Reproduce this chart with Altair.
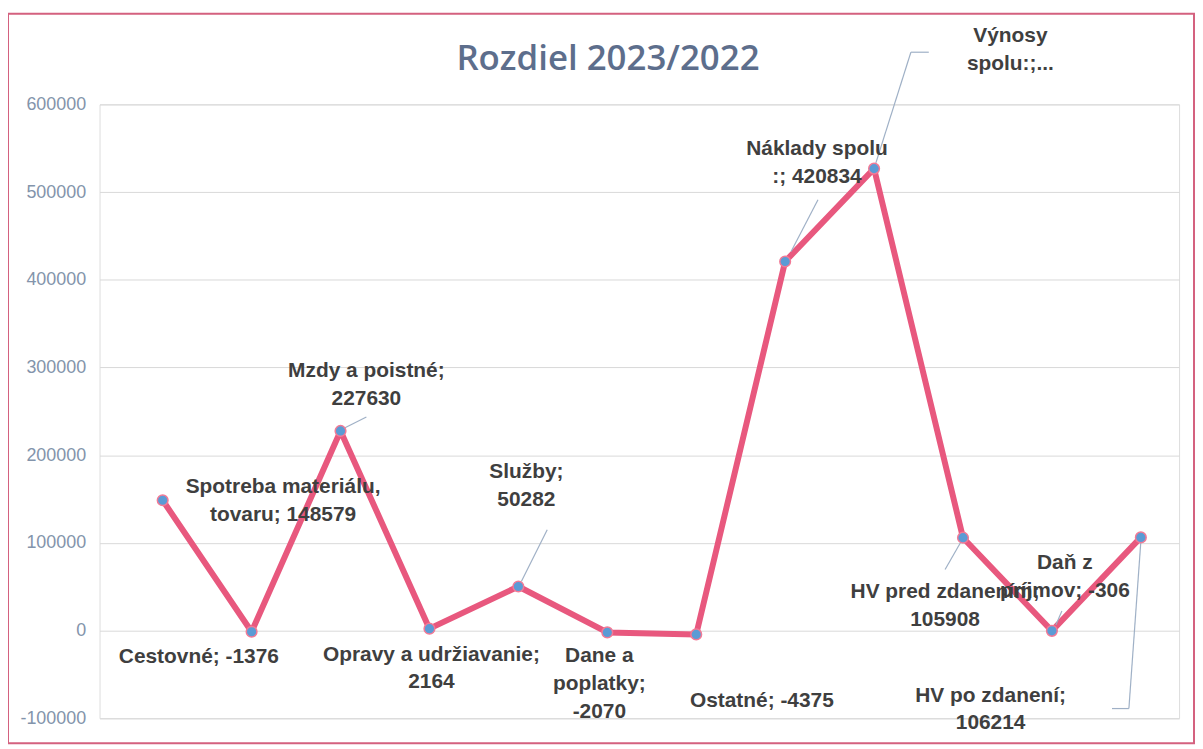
import altair as alt
import pandas as pd

categories = ["Spotreba materiálu, tovaru", "Cestovné", "Mzdy a poistné",
              "Opravy a udržiavanie", "Služby", "Dane a poplatky", "Ostatné",
              "Náklady spolu", "Výnosy spolu", "HV pred zdanením",
              "Daň z príjmov", "HV po zdanení"]
values = [148579, -1376, 227630, 2164, 50282, -2070, -4375,
          420834, 526742, 105908, -306, 106214]
label_texts = ["Spotreba materiálu,\ntovaru; 148579", "Cestovné; -1376",
               "Mzdy a poistné;\n227630", "Opravy a udržiavanie;\n2164",
               "Služby;\n50282", "Dane a\npoplatky;\n-2070", "Ostatné; -4375",
               "Náklady spolu\n:; 420834", "Výnosy\nspolu:;...",
               "HV pred zdanením;\n105908", "Daň z\npríjmov; -306",
               "HV po zdanení;\n106214"]
y_ticks = [-100000, 0, 100000, 200000, 300000, 400000, 500000, 600000]
title_text = "Rozdiel 2023/2022"

# label placement (pixel offsets of the first text line from the point) - layout only
label_offsets = {0: (121, -13), 1: (-53, 25), 2: (26, -60), 3: (2, 26),
                 4: (8, -115), 5: (-8, 24), 6: (66, 67), 7: (32, -113),
                 8: (137, -133), 9: (-18, 55), 10: (13, -68), 11: (-151, 159)}
# leader lines: (index, start offset, end offset)
leaders = [(2, (4, -3), (26, -14)), (4, (3, -5), (29, -57)),
           (7, (6, -10), (33, -62)), (8, (0, 0), (37, -117)),
           (8, (37, -117), (55, -117)), (9, (-2, 4), (-18, 32)),
           (10, (4, -6), (10, -20)), (11, (0, 4), (-12, 172)),
           (11, (-12, 172), (-29, 172))]

df = pd.DataFrame({"idx": list(range(len(categories))), "cat": categories,
                   "val": values, "label": label_texts})

W, H = 1085, 617
FONT = "Liberation Sans"
LINE_COLOR = "#e8587e"

x_enc = alt.X("idx:Q", scale=alt.Scale(domain=[-0.71, 11.43], nice=False, zero=False), axis=None)
y_enc = alt.Y("val:Q", scale=alt.Scale(domain=[-100000, 600000], nice=False, zero=False),
              axis=alt.Axis(values=y_ticks, labelExpr="'' + datum.value", title=None,
                            domain=False, ticks=False,
                            labelFont=FONT, labelFontSize=18, labelColor="#8394ab",
                            labelPadding=14, grid=True, gridColor="#d9d9d9", gridWidth=1))

base = alt.Chart(df)

line = base.mark_line(color=LINE_COLOR, strokeWidth=6, strokeJoin="round").encode(x=x_enc, y=y_enc)
points = base.mark_point(filled=True, shape="circle", size=115, fill="#5b9bd5",
                         stroke="#f27a96", strokeWidth=1.5, opacity=1).encode(
    x=alt.X("idx:Q"), y=alt.Y("val:Q"))

single = base.transform_filter(alt.datum.idx == 0)
frame = single.mark_rect(
    fill="white", fillOpacity=0, stroke="#d4617f", strokeWidth=2).encode(
    x=alt.value(-92), x2=alt.value(1100), y=alt.value(-91), y2=alt.value(642))
title = single.mark_text(font="Open Sans", fontSize=35, fontWeight=600, color="#5d6e8c",
                         align="center", baseline="middle").encode(
    x=alt.value(511), y=alt.value(-46), text=alt.value(title_text))

layers = [line, frame, title]
for (i, s, e) in leaders:
    layers.append(base.transform_filter(alt.datum.idx == i).mark_rule(
        color="#9fb0c6", strokeWidth=1.2,
        xOffset=s[0], yOffset=s[1], x2Offset=e[0], y2Offset=e[1]).encode(
        x=alt.X("idx:Q"), y=alt.Y("val:Q"), x2="idx:Q", y2="val:Q"))

layers.append(points)

for i, (dx, dy) in label_offsets.items():
    layers.append(base.transform_filter(alt.datum.idx == i).mark_text(
        font=FONT, fontSize=21, fontWeight="bold", color="#3f3f3f",
        align="center", baseline="middle", lineBreak="\n", lineHeight=28,
        dx=dx, dy=dy).encode(x=alt.X("idx:Q"), y=alt.Y("val:Q"), text="label:N"))

chart = alt.layer(*layers).properties(
    width=W, height=H,
    autosize=alt.AutoSizeParams(type="none"),
    padding={"left": 92, "top": 95, "right": 16, "bottom": 26},
).configure_view(strokeOpacity=0).configure(background="white")

chart.save("out.html", embed_options={"renderer": "svg", "actions": False})
